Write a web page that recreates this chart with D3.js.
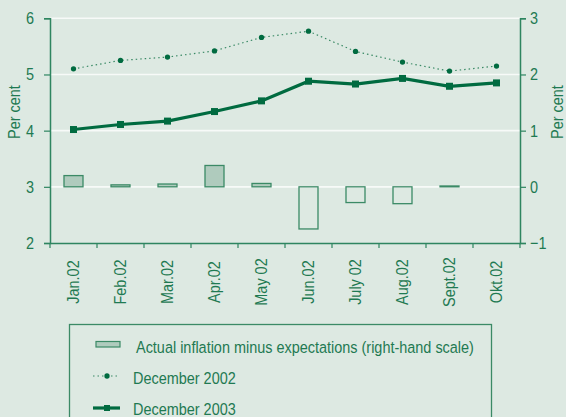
<!DOCTYPE html>
<html>
<head>
<meta charset="utf-8">
<script src="https://cdn.jsdelivr.net/npm/d3@7"></script>
<style>
  html, body { margin: 0; padding: 0; background: #dde9e2; }
  svg text { font-family: "Liberation Sans", Arial, sans-serif; fill: #1f7a52; }
</style>
</head>
<body>
<svg id="chart" width="566" height="417"></svg>
<script>
// Inflation expectations, 2002 survey months
const months = ["Jan.02", "Feb.02", "Mar.02", "Apr.02", "May 02", "Jun.02", "July 02", "Aug.02", "Sept.02", "Okt.02"];
const dec2002 = [5.10, 5.25, 5.31, 5.42, 5.66, 5.77, 5.41, 5.22, 5.06, 5.15];
const dec2003 = [4.02, 4.11, 4.17, 4.34, 4.53, 4.88, 4.83, 4.93, 4.79, 4.85];
const actualMinusExp = [0.20, 0.035, 0.05, 0.38, 0.06, -0.75, -0.28, -0.30, 0.015, 0];
const leftTicks = [2, 3, 4, 5, 6];
const rightTicks = [-1, 0, 1, 2, 3];

const green = "#006b40";
const axisGreen = "#2e8560";
const textGreen = "#1f7a52";
const fontSize = "17px";
const squeeze = 0.85; // condensed lettering

const svg = d3.select("#chart");
const m = { left: 50, right: 520, top: 18.3, bottom: 243 };

const x = d3.scaleBand().domain(months).range([m.left, m.right]);
const yL = d3.scaleLinear().domain([2, 6]).range([m.bottom, m.top]);
const yR = d3.scaleLinear().domain([-1, 3]).range([m.bottom, m.top]);

// place a condensed text at (tx, ty), optionally rotated
function label(parent, tx, ty, str, anchor = "start", rot = 0) {
  return parent.append("text")
    .attr("transform", `translate(${tx},${ty}) rotate(${rot}) scale(${squeeze},1)`)
    .attr("text-anchor", anchor)
    .attr("dy", "0.35em")
    .style("font-size", fontSize)
    .text(str);
}

// horizontal gridlines
svg.append("g").selectAll("line")
  .data(leftTicks.filter(t => t > 2))
  .join("line")
  .attr("x1", m.left).attr("x2", m.right)
  .attr("y1", d => yL(d)).attr("y2", d => yL(d))
  .attr("stroke", "#f7faf8").attr("stroke-width", 1.6);

// bars: actual inflation minus expectations (right-hand scale)
svg.append("g").selectAll("rect")
  .data(actualMinusExp.map((v, i) => ({ m: months[i], v })).filter(d => d.v !== 0))
  .join("rect")
  .attr("x", d => x(d.m) + x.bandwidth() / 2 - 9.5)
  .attr("width", 19)
  .attr("y", d => yR(Math.max(0, d.v)))
  .attr("height", d => Math.abs(yR(d.v) - yR(0)))
  .attr("fill", d => d.v > 0 ? "#afcbbd" : "none")
  .attr("stroke", "#3b8a66")
  .attr("stroke-width", 1.3);

// axes
const left = svg.append("g").attr("transform", `translate(${m.left},0)`)
  .call(d3.axisLeft(yL).tickValues(leftTicks).tickFormat(d3.format("d")).tickSize(6).tickPadding(4));
const right = svg.append("g").attr("transform", `translate(${m.right},0)`)
  .call(d3.axisRight(yR).tickValues(rightTicks).tickFormat(d3.format("d")).tickSize(6).tickPadding(4));
const bottom = svg.append("g").attr("transform", `translate(0,${m.bottom})`)
  .call(d3.axisBottom(x).tickSize(0).tickFormat(""));

[left, right, bottom].forEach(g => {
  g.select(".domain").attr("stroke", axisGreen).attr("stroke-width", 1.5);
  g.selectAll(".tick line").attr("stroke", axisGreen).attr("stroke-width", 1.2);
  g.selectAll(".tick text").attr("fill", textGreen).style("font-size", fontSize);
});
left.selectAll(".tick text")
  .attr("transform", `translate(-16,0) scale(${squeeze},1)`).attr("x", 0);
right.selectAll(".tick text")
  .attr("transform", `translate(10,0) scale(${squeeze},1)`).attr("x", 0);

// tick marks at band boundaries on the month axis
const bounds = months.map(mo => x(mo)).concat([m.right]);
bottom.append("g").selectAll("line")
  .data(bounds)
  .join("line")
  .attr("x1", d => d).attr("x2", d => d)
  .attr("y1", 0).attr("y2", 5)
  .attr("stroke", axisGreen).attr("stroke-width", 1.2);

// rotated month labels
const mg = svg.append("g");
months.forEach(mo => label(mg, x(mo) + x.bandwidth() / 2, 282, mo, "middle", -90));

// axis titles
label(svg, 14, 112, "Per cent", "middle", -90);
label(svg, 557, 112, "Per cent", "middle", -90);

// December 2002 expectations: dotted line with small markers
const lineL = d3.line().x((d, i) => x(months[i]) + x.bandwidth() / 2).y(d => yL(d));
svg.append("path")
  .datum(dec2002)
  .attr("d", lineL)
  .attr("fill", "none")
  .attr("stroke", "#3b8a66")
  .attr("stroke-width", 1.2)
  .attr("stroke-dasharray", "1.5,3");
svg.append("g").selectAll("path")
  .data(dec2002)
  .join("path")
  .attr("transform", (d, i) => `translate(${x(months[i]) + x.bandwidth() / 2},${yL(d)})`)
  .attr("d", d3.symbol(d3.symbolCircle, 22))
  .attr("fill", green);

// December 2003 expectations: solid line with square markers
svg.append("path")
  .datum(dec2003)
  .attr("d", lineL)
  .attr("fill", "none")
  .attr("stroke", green)
  .attr("stroke-width", 3.2);
svg.append("g").selectAll("rect")
  .data(dec2003)
  .join("rect")
  .attr("x", (d, i) => x(months[i]) + x.bandwidth() / 2 - 3.5)
  .attr("y", d => yL(d) - 3.5)
  .attr("width", 7).attr("height", 7)
  .attr("fill", green);

// legend
const lg = svg.append("g");
lg.append("rect")
  .attr("x", 69.5).attr("y", 324.5)
  .attr("width", 422).attr("height", 120)
  .attr("fill", "none").attr("stroke", "#3b8a66").attr("stroke-width", 1.3);

lg.append("rect")
  .attr("x", 96).attr("y", 341.5).attr("width", 24).attr("height", 5.5)
  .attr("fill", "#afcbbd").attr("stroke", "#3b8a66").attr("stroke-width", 1.2);
label(lg, 136, 347, "Actual inflation minus expectations (right-hand scale)");

lg.append("line").attr("x1", 93).attr("x2", 120).attr("y1", 376).attr("y2", 376)
  .attr("stroke", "#3b8a66").attr("stroke-width", 1.2).attr("stroke-dasharray", "1.5,3");
lg.append("path").attr("transform", "translate(107,376)")
  .attr("d", d3.symbol(d3.symbolCircle, 22)).attr("fill", green);
label(lg, 133, 378, "December 2002");

lg.append("line").attr("x1", 93).attr("x2", 120).attr("y1", 408).attr("y2", 408)
  .attr("stroke", green).attr("stroke-width", 3.2);
lg.append("rect").attr("x", 104).attr("y", 405).attr("width", 6).attr("height", 6).attr("fill", green);
label(lg, 133, 409, "December 2003");
</script>
</body>
</html>
